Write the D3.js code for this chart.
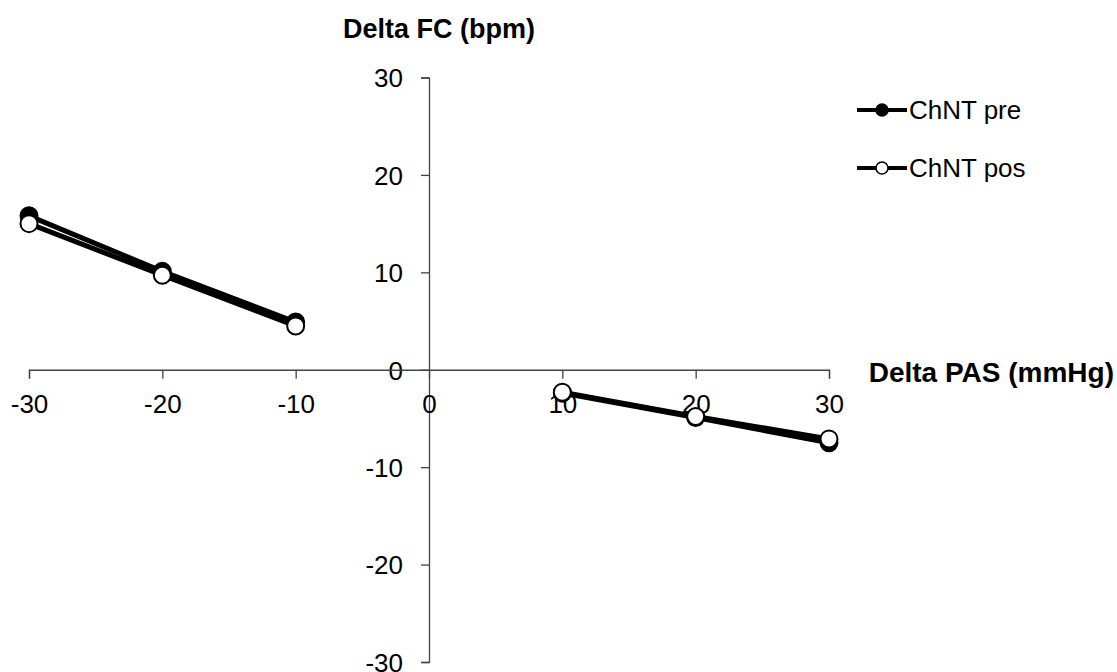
<!DOCTYPE html>
<html>
<head>
<meta charset="utf-8">
<script src="https://cdn.jsdelivr.net/npm/d3@7"></script>
<style>
  body { margin: 0; background: #fff; }
  text { font-family: "Liberation Sans", Arial, sans-serif; }
</style>
</head>
<body>
<svg id="chart" width="1117" height="672"></svg>
<script>
var xValues = [-30, -20, -10, 10, 20, 30];
var preValues = [15.8, 10.1, 4.9, -2.4, -4.9, -7.5];
var posValues = [15.0, 9.7, 4.5, -2.3, -4.8, -7.1];
var xTicks = [-30, -20, -10, 0, 10, 20, 30];
var yTicks = [-30, -20, -10, 0, 10, 20, 30];
var seriesNames = ["ChNT pre", "ChNT pos"];

var svg = d3.select("#chart");

var x = d3.scaleLinear().domain([-30, 30]).range([29, 829]);
var y = d3.scaleLinear().domain([-30, 30]).range([662, 77.5]);
var fmt = function(d) { return String(d); }; // plain hyphen, like the original

// y axis at x = 0, ticks to the left
svg.append("g")
    .attr("transform", "translate(" + x(0) + ",0)")
    .call(d3.axisLeft(y).tickValues(yTicks).tickFormat(fmt).tickSize(8).tickSizeOuter(8).tickPadding(18))
    .call(function(g) {
      g.select(".domain").attr("stroke", "#444").attr("stroke-width", 1.3);
      g.selectAll(".tick line").attr("stroke", "#444").attr("stroke-width", 1.3);
      g.selectAll("text").attr("font-size", 26).attr("fill", "#000")
        .attr("font-family", "Liberation Sans, Arial, sans-serif").attr("dy", "0.36em");
    });

// x axis at y = 0, ticks below
svg.append("g")
    .attr("transform", "translate(0," + y(0) + ")")
    .call(d3.axisBottom(x).tickValues(xTicks).tickFormat(fmt).tickSize(9).tickSizeOuter(9).tickPadding(16))
    .call(function(g) {
      g.select(".domain").attr("stroke", "#444").attr("stroke-width", 1.3);
      g.selectAll(".tick line").attr("stroke", "#444").attr("stroke-width", 1.3);
      g.selectAll("text").attr("font-size", 26).attr("fill", "#000")
        .attr("font-family", "Liberation Sans, Arial, sans-serif");
    });

// axis titles
svg.append("text").attr("x", 439).attr("y", 38).attr("text-anchor", "middle")
  .attr("font-size", 27).attr("font-weight", "bold").text("Delta FC (bpm)");
svg.append("text").attr("x", 1114).attr("y", 382).attr("text-anchor", "end")
  .attr("font-size", 28).attr("font-weight", "bold").text("Delta PAS (mmHg)");

var segments = [[0, 3], [3, 6]];
var series = [
  { name: seriesNames[0], values: preValues, fill: "#000" },
  { name: seriesNames[1], values: posValues, fill: "#fff" }
];

var line = d3.line().x(function(d) { return x(d[0]); }).y(function(d) { return y(d[1]); });

series.forEach(function(s) {
  var pts = xValues.map(function(v, i) { return [v, s.values[i]]; });
  segments.forEach(function(seg) {
    svg.append("path")
      .datum(pts.slice(seg[0], seg[1]))
      .attr("d", line)
      .attr("fill", "none")
      .attr("stroke", "#000")
      .attr("stroke-width", 5);
  });
});

series.forEach(function(s) {
  var pts = xValues.map(function(v, i) { return [v, s.values[i]]; });
  svg.append("g").selectAll("circle")
    .data(pts)
    .join("circle")
      .attr("cx", function(d) { return x(d[0]); })
      .attr("cy", function(d) { return y(d[1]); })
      .attr("r", 8.5)
      .attr("fill", s.fill)
      .attr("stroke", "#000")
      .attr("stroke-width", 2);
});

// legend
var legend = svg.append("g");
series.forEach(function(s, i) {
  var ly = 110 + i * 58;
  legend.append("line").attr("x1", 857).attr("x2", 907).attr("y1", ly).attr("y2", ly)
    .attr("stroke", "#000").attr("stroke-width", 4);
  legend.append("circle").attr("cx", 882).attr("cy", ly).attr("r", 6)
    .attr("fill", s.fill).attr("stroke", "#000").attr("stroke-width", 1.5);
  legend.append("text").attr("x", 909).attr("y", ly + 9).attr("font-size", 26).text(s.name);
});
</script>
</body>
</html>
